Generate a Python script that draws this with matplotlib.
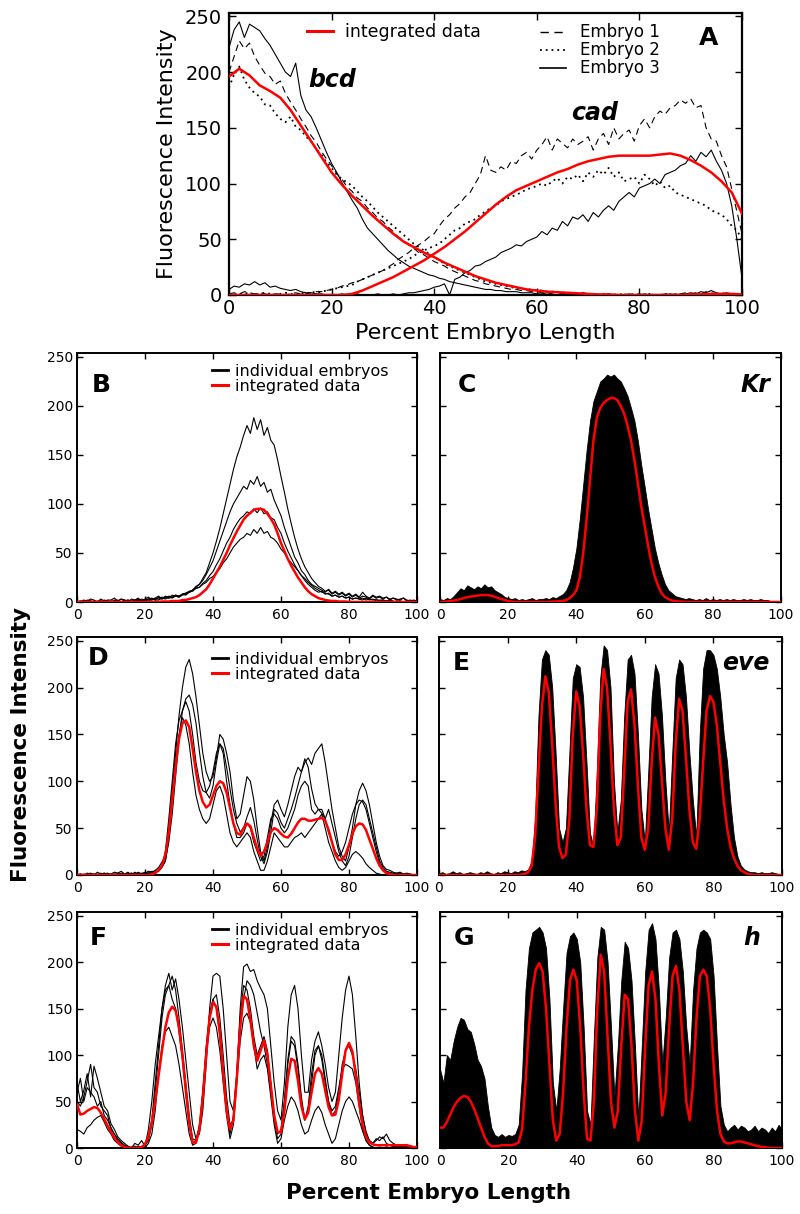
import numpy as np
import matplotlib
matplotlib.use("Agg")
import matplotlib.pyplot as plt
from matplotlib.lines import Line2D

plt.rcParams['font.family'] = ['DejaVu Sans']

W, H = 800, 1214

# percent embryo length
pct = np.arange(0, 101)
pct2 = np.arange(0, 101, 2)

# ---------------- panel A: bcd / cad ----------------
bcd_integrated = [196, 203, 197, 188, 183, 177, 166, 152, 138, 124,
                  110, 99, 89, 80, 71, 63, 55, 48, 43, 38,
                  34, 29, 25, 21, 17, 14, 11, 9, 7, 5,
                  4, 3, 2.5, 2, 1.5, 1, 0.5, 0.5, 0, 0,
                  0, 0, 0, 0, 0, 0.5, 0.5, 1, 1, 1, 0.5]
cad_integrated = [0, 0, 0, 0, 0, 0, 0, 0, 0, 0,
                  0, 0, 1, 4, 8, 12, 16, 21, 26, 31,
                  37, 43, 50, 57, 65, 73, 81, 88, 94, 98,
                  102, 106, 110, 113, 117, 120, 122, 124, 125, 125,
                  125, 125, 126, 127, 125, 121, 116, 110, 102, 92, 73]

emb1_bcd = [200, 214, 228, 221, 226, 214, 206, 199, 196, 189,
            192, 181, 173, 166, 158, 151, 143, 137, 129, 122,
            116, 109, 104, 97, 93, 87, 84, 78, 74, 69,
            66, 61, 57, 52, 49, 45, 42, 38, 36, 33,
            30, 28, 26, 23, 21, 19, 17, 15, 13, 12,
            10, 9, 8, 7, 6, 5, 5, 4, 4, 3,
            3, 2, 2, 3, 2, 1, 2, 1, 1, 2,
            1, 0, 1, 0, 1, 0, 0, 1, 0, 0,
            1, 0, 0, 1, 0, 0, 1, 0, 1, 2,
            1, 2, 1, 3, 2, 1, 2, 1, 0, 0, 0]
emb2_bcd = [186, 198, 205, 193, 186, 181, 178, 171, 170, 163,
            158, 155, 160, 151, 148, 142, 138, 131, 126, 119,
            114, 108, 104, 101, 98, 93, 88, 84, 79, 74,
            70, 66, 62, 58, 54, 50, 46, 43, 40, 37,
            34, 31, 28, 26, 24, 22, 20, 18, 16, 14,
            12, 11, 10, 9, 8, 7, 6, 6, 5, 5,
            4, 4, 3, 3, 3, 2, 2, 2, 1, 1,
            1, 1, 0, 1, 0, 0, 1, 0, 0, 1,
            0, 0, 1, 0, 0, 1, 0, 0, 0, 1,
            0, 1, 0, 0, 1, 0, 0, 1, 0, 0, 0]
emb3_bcd = [222, 238, 245, 231, 243, 240, 237, 230, 224, 216,
            208, 200, 196, 208, 179, 166, 160, 150, 139, 128,
            118, 110, 101, 93, 85, 78, 68, 60, 55, 50,
            45, 40, 36, 32, 29, 26, 24, 22, 20, 18,
            17, 15, 14, 12, 11, 10, 9, 8, 7, 6,
            5, 5, 4, 4, 3, 3, 3, 2, 2, 2,
            1, 1, 2, 1, 0, 1, 0, 1, 0, 0,
            0, 1, 0, 0, 1, 0, 0, 0, 1, 0,
            0, 1, 0, 0, 0, 1, 0, 1, 0, 1,
            2, 1, 3, 2, 4, 2, 1, 2, 1, 0, 0]
emb1_cad = [1, 2, 1, 3, 2, 1, 2, 1, 0, 1,
            1, 0, 1, 2, 1, 1, 2, 3, 3, 4,
            5, 6, 8, 9, 11, 12, 14, 16, 18, 20,
            22, 25, 28, 32, 35, 38, 42, 45, 48, 52,
            55, 62, 68, 72, 78, 82, 88, 92, 100, 108,
            125, 112, 110, 115, 112, 120, 118, 125, 128, 122,
            130, 135, 142, 130, 140, 136, 132, 140, 135, 138,
            142, 130, 140, 145, 135, 150, 140, 145, 148, 138,
            152, 158, 150, 160, 165, 162, 168, 170, 175, 172,
            176, 168, 170, 150, 140, 138, 125, 115, 95, 75, 55]
emb2_cad = [0, 1, 0, 2, 1, 0, 1, 2, 1, 0,
            1, 2, 1, 0, 2, 1, 3, 2, 3, 4,
            5, 6, 7, 8, 9, 12, 14, 16, 18, 20,
            22, 24, 26, 28, 30, 32, 35, 38, 40, 42,
            44, 46, 50, 54, 58, 60, 64, 66, 68, 72,
            75, 78, 80, 84, 86, 88, 90, 92, 95, 96,
            98, 100, 98, 102, 105, 100, 106, 104, 108, 102,
            110, 106, 112, 108, 114, 106, 110, 102, 104, 106,
            100, 108, 104, 98, 102, 96, 98, 92, 90, 88,
            86, 84, 82, 80, 76, 74, 72, 68, 62, 58, 50]
emb3_cad = [5, 8, 7, 10, 9, 12, 9, 11, 7, 8,
            6, 5, 4, 5, 3, 2, 2, 1, 1, 0,
            0, 0, 1, 0, 0, 1, 0, 0, 0, 1,
            0, 0, 1, 0, 1, 2, 2, 3, 4, 5,
            7, 8, 10, 0, 14, 16, 20, 22, 26, 27,
            30, 32, 34, 38, 40, 42, 45, 44, 48, 50,
            52, 57, 54, 60, 58, 66, 62, 70, 68, 72,
            66, 74, 70, 76, 80, 76, 84, 88, 92, 88,
            96, 98, 100, 104, 100, 108, 110, 112, 116, 118,
            125, 120, 128, 124, 130, 120, 112, 100, 80, 50, 15]

# ---------------- panel B ----------------
B_integrated = [0, 0, 0, 0, 0, 0, 0, 0, 0, 0,
                0, 0, 0, 0, 0, 0, 0, 0, 0, 0,
                0, 0, 0, 0, 0, 0.5, 0.5, 0.5, 1, 1,
                1, 2, 2, 3, 4, 5, 7, 10, 13, 18,
                24, 30, 36, 43, 50, 58, 65, 72, 78, 84,
                88, 91, 94, 95, 95, 94, 90, 85, 79, 70,
                60, 52, 44, 37, 31, 25, 20, 15, 11, 8,
                6, 4, 3, 2, 1.5, 1, 1, 0.5, 0.5, 0.5,
                0, 0, 0, 0, 0, 0, 0, 0, 0, 0,
                0, 0, 0, 0, 0, 0, 0, 0, 0, 0, 0]
B_embryos = [
    [1, 0, 2, 1, 3, 2, 0, 3, 1, 2,
     2, 4, 1, 3, 2, 0, 3, 2, 4, 1,
     3, 5, 2, 4, 6, 3, 5, 4, 7, 6,
     5, 8, 9, 11, 12, 16, 18, 24, 30, 40,
     50, 62, 75, 90, 105, 120, 135, 148, 158, 170,
     180, 172, 188, 176, 186, 170, 178, 165, 160, 145,
     128, 112, 95, 80, 66, 54, 44, 36, 30, 24,
     20, 16, 14, 11, 12, 8, 10, 7, 9, 6,
     8, 5, 7, 4, 6, 5, 3, 6, 4, 5,
     3, 5, 2, 4, 3, 2, 4, 1, 2, 1, 0],
    [0, 1, 0, 2, 1, 0, 1, 0, 2, 1,
     0, 2, 1, 3, 1, 2, 0, 2, 3, 1,
     2, 3, 4, 2, 5, 3, 6, 4, 5, 7,
     6, 8, 7, 10, 12, 15, 18, 22, 28, 35,
     42, 52, 62, 72, 82, 92, 100, 106, 112, 118,
     115, 124, 120, 128, 118, 122, 112, 115, 104, 96,
     88, 76, 66, 56, 46, 40, 32, 28, 22, 18,
     16, 14, 12, 10, 13, 9, 11, 8, 10, 7,
     9, 6, 8, 5, 10, 6, 4, 7, 5, 6,
     4, 5, 3, 4, 2, 3, 4, 2, 1, 2, 1],
    [0, 0, 1, 0, 0, 1, 0, 1, 0, 0,
     1, 0, 1, 0, 2, 1, 0, 1, 2, 1,
     2, 1, 3, 2, 2, 4, 3, 5, 4, 6,
     5, 7, 8, 10, 11, 14, 15, 19, 22, 27,
     31, 38, 44, 52, 60, 66, 74, 80, 85, 88,
     92, 90, 95, 91, 96, 90, 92, 86, 84, 76,
     70, 60, 52, 45, 38, 32, 27, 22, 18, 15,
     12, 10, 11, 8, 9, 6, 7, 5, 6, 4,
     5, 3, 4, 3, 2, 4, 2, 3, 1, 2,
     2, 1, 2, 0, 1, 1, 0, 1, 0, 0, 0],
    [0, 1, 0, 0, 1, 0, 0, 1, 0, 1,
     0, 1, 2, 0, 1, 2, 1, 2, 1, 3,
     2, 3, 2, 4, 3, 5, 4, 6, 5, 7,
     6, 8, 9, 10, 12, 14, 15, 18, 20, 24,
     26, 30, 34, 40, 44, 50, 56, 60, 64, 66,
     70, 68, 74, 70, 76, 70, 72, 66, 64, 60,
     54, 50, 44, 40, 36, 32, 27, 24, 20, 17,
     14, 12, 10, 9, 8, 6, 7, 5, 6, 4,
     5, 3, 4, 3, 4, 2, 3, 2, 3, 1,
     2, 1, 2, 1, 0, 1, 0, 1, 0, 0, 0],
]

# ---------------- panel C: Kr ----------------
C_integrated = [0, 0, 0.5, 1, 1.5, 2, 3, 4, 5, 5.5,
                6, 6.5, 7, 7, 7, 6.5, 5.5, 4, 3, 2,
                1, 0.5, 0, 0, 0, 0, 0, 0, 0, 0,
                0, 0, 0, 0.5, 0.5, 1, 1, 2, 4, 7,
                12, 25, 50, 85, 125, 165, 188, 198, 203, 206,
                208, 208, 206, 200, 192, 180, 165, 145, 122, 98,
                78, 58, 40, 26, 16, 9, 5, 3, 1.5, 1,
                0.5, 0.5, 0, 0, 0, 0, 0, 0, 0, 0,
                0, 0, 0, 0, 0, 0, 0, 0, 0, 0,
                0, 0, 0, 0, 0, 0, 0, 0, 0, 0, 0]
C_embryo_max = [3, 2, 4, 3, 6, 10, 14, 12, 17, 15,
                13, 16, 14, 18, 15, 16, 12, 10, 8, 5,
                4, 3, 4, 2, 3, 2, 3, 4, 2, 3,
                3, 4, 3, 5, 4, 6, 8, 12, 20, 35,
                55, 85, 120, 155, 185, 205, 215, 225, 228, 232,
                230, 232, 228, 225, 218, 210, 198, 185, 165, 140,
                118, 95, 75, 55, 40, 28, 18, 12, 9, 6,
                5, 4, 3, 4, 3, 2, 3, 2, 4, 2,
                3, 2, 3, 2, 3, 2, 3, 2, 2, 3,
                2, 3, 2, 2, 3, 2, 2, 1, 1, 1, 1]

# ---------------- panel D ----------------
D_integrated = [0, 0, 0, 0, 0, 0, 0, 0, 0, 0,
                0, 0, 0, 0, 0, 0, 0, 0, 0, 0,
                0, 0, 1, 2, 5, 10, 22, 45, 80, 115,
                145, 162, 165, 158, 135, 110, 90, 78, 72, 75,
                85, 95, 100, 98, 88, 72, 55, 45, 43, 50,
                55, 52, 40, 28, 21, 25, 35, 46, 50, 48,
                44, 41, 40, 44, 50, 56, 60, 60, 58, 58,
                59, 60, 61, 58, 48, 35, 22, 16, 16, 22,
                32, 44, 52, 55, 54, 48, 38, 28, 18, 10,
                5, 2, 1, 0, 0, 0, 0, 0, 0, 0, 0]
D_embryos = [
    [0, 1, 0, 2, 1, 0, 3, 1, 2, 0,
     1, 3, 2, 4, 1, 2, 0, 3, 1, 2,
     2, 4, 3, 5, 8, 14, 20, 50, 90, 130,
     170, 200, 222, 230, 215, 190, 160, 130, 110, 100,
     105, 125, 150, 145, 130, 110, 80, 60, 65, 85,
     105, 100, 80, 50, 25, 15, 30, 55, 75, 80,
     70, 62, 75, 90, 105, 115, 110, 120, 125, 118,
     130, 135, 140, 120, 95, 70, 50, 30, 20, 15,
     30, 50, 75, 90, 98, 90, 75, 55, 35, 20,
     10, 6, 5, 3, 2, 3, 1, 2, 1, 0, 0],
    [1, 0, 0, 1, 2, 0, 1, 0, 1, 2,
     0, 1, 0, 2, 1, 3, 0, 1, 2, 1,
     3, 2, 4, 3, 6, 9, 15, 35, 65, 105,
     145, 175, 188, 192, 182, 162, 132, 105, 88, 82,
     95, 120, 140, 135, 115, 92, 70, 55, 46, 50,
     62, 72, 58, 38, 20, 12, 25, 45, 70, 66,
     56, 50, 60, 70, 82, 96, 110, 124, 115, 92,
     76, 70, 66, 60, 70, 55, 40, 25, 15, 10,
     20, 40, 60, 75, 80, 75, 60, 45, 30, 15,
     8, 4, 3, 2, 1, 2, 1, 0, 1, 0, 0],
    [0, 0, 1, 0, 0, 1, 0, 0, 2, 1,
     0, 1, 0, 0, 1, 0, 2, 1, 0, 1,
     1, 2, 1, 3, 4, 8, 15, 40, 80, 120,
     150, 168, 160, 140, 110, 85, 70, 60, 55, 60,
     75, 90, 95, 85, 65, 45, 35, 30, 35, 40,
     45, 40, 25, 15, 5, 5, 15, 30, 45, 40,
     35, 30, 30, 35, 40, 42, 45, 40, 45, 50,
     55, 60, 65, 50, 35, 25, 15, 8, 5, 8,
     15, 22, 25, 22, 18, 12, 8, 5, 2, 1,
     0, 1, 0, 0, 1, 0, 0, 0, 0, 0, 0],
    [0, 1, 0, 0, 1, 1, 0, 2, 0, 1,
     1, 0, 2, 1, 0, 1, 2, 0, 3, 1,
     2, 1, 3, 2, 5, 10, 25, 60, 100, 140,
     165, 175, 185, 175, 150, 120, 100, 90, 88, 95,
     110, 130, 140, 130, 100, 75, 55, 40, 40, 45,
     55, 50, 35, 25, 15, 20, 40, 60, 65, 60,
     50, 45, 50, 60, 70, 85, 95, 100, 95, 70,
     65, 70, 70, 60, 45, 35, 25, 20, 25, 35,
     50, 65, 75, 80, 78, 70, 55, 40, 25, 12,
     5, 3, 2, 1, 2, 1, 0, 1, 0, 0, 0],
]

# ---------------- panel E: eve ----------------
E_integrated = [0, 0, 0, 0, 0, 0, 0, 0, 0, 0,
                0, 0, 0, 0, 0, 0, 0, 0, 0, 0,
                0, 0, 0, 0, 0.5, 1, 3, 10, 40, 110,
                180, 212, 195, 140, 75, 30, 18, 22, 60, 150,
                196, 180, 130, 70, 32, 30, 70, 170, 220, 200,
                140, 70, 32, 40, 110, 185, 198, 160, 95, 40,
                27, 50, 120, 168, 150, 100, 50, 27, 60, 140,
                188, 175, 125, 70, 35, 28, 60, 120, 175, 191,
                185, 160, 120, 80, 50, 30, 18, 10, 5, 3,
                1, 0.5, 0, 0, 0, 0, 0, 0, 0, 0, 0]
E_embryo_max = [2, 3, 1, 2, 4, 2, 3, 1, 2, 3,
                2, 1, 3, 2, 4, 2, 1, 3, 2, 4,
                3, 2, 4, 3, 5, 4, 6, 15, 60, 170,
                230, 240, 235, 200, 130, 50, 35, 50, 130, 210,
                225, 222, 190, 120, 45, 30, 110, 210, 245, 240,
                200, 100, 45, 80, 170, 230, 235, 215, 150, 70,
                35, 110, 190, 225, 215, 170, 100, 45, 130, 210,
                230, 225, 190, 130, 80, 40, 150, 220, 240, 240,
                235, 220, 190, 150, 120, 75, 40, 20, 10, 6,
                4, 3, 3, 2, 3, 2, 2, 3, 2, 1, 1]

# ---------------- panel F ----------------
F_integrated = [47, 36, 37, 40, 42, 44, 43, 38, 31, 24,
                17, 11, 6, 3, 1, 0, 0, 0, 0, 1,
                4, 12, 28, 50, 78, 105, 130, 146, 152, 148,
                130, 100, 62, 28, 6, 6, 20, 55, 100, 140,
                157, 152, 125, 80, 40, 20, 30, 75, 130, 164,
                160, 138, 110, 94, 105, 116, 100, 68, 35, 17,
                17, 40, 75, 96, 94, 72, 45, 31, 38, 60,
                80, 86, 80, 62, 44, 35, 36, 52, 80, 105,
                113, 104, 78, 48, 25, 12, 6, 4, 3, 3,
                3, 3, 3, 3, 3, 3, 3, 3, 2, 1, 1]
F_embryos = [
    [70, 50, 62, 80, 55, 88, 75, 60, 45, 40,
     26, 20, 12, 8, 5, 2, 0, 5, 3, 8,
     2, 20, 50, 90, 120, 150, 175, 188, 170, 182,
     160, 130, 95, 60, 25, 10, 15, 40, 90, 150,
     185, 188, 185, 150, 100, 50, 40, 80, 150, 195,
     198, 190, 192, 180, 172, 165, 150, 110, 70, 40,
     30, 70, 130, 165, 175, 150, 100, 60, 60, 95,
     115, 125, 110, 90, 65, 50, 60, 100, 140, 170,
     185, 165, 120, 70, 35, 15, 8, 5, 8, 12,
     10, 15, 8, 5, 3, 2, 1, 2, 1, 0, 0],
    [50, 45, 55, 72, 90, 65, 60, 45, 40, 35,
     20, 15, 8, 5, 2, 0, 1, 0, 2, 0,
     3, 10, 30, 70, 110, 150, 170, 175, 160, 150,
     125, 95, 60, 25, 5, 8, 25, 60, 110, 145,
     160, 150, 120, 80, 40, 15, 35, 80, 140, 175,
     170, 150, 120, 100, 110, 120, 105, 70, 30, 10,
     15, 50, 95, 120, 115, 90, 55, 30, 40, 70,
     100, 110, 95, 70, 50, 40, 45, 65, 85, 90,
     88, 85, 70, 45, 20, 8, 3, 1, 0, 1,
     0, 1, 0, 2, 1, 0, 1, 0, 0, 1, 0],
    [20, 18, 15, 22, 25, 30, 33, 35, 28, 20,
     15, 8, 5, 2, 0, 0, 1, 0, 0, 1,
     0, 5, 15, 40, 80, 110, 125, 130, 120, 110,
     90, 65, 40, 15, 3, 5, 20, 60, 100, 130,
     140, 130, 105, 70, 35, 10, 25, 70, 115, 140,
     145, 135, 110, 85, 95, 100, 85, 55, 25, 5,
     10, 30, 45, 55, 50, 40, 25, 15, 18, 30,
     40, 45, 38, 25, 15, 5, 10, 25, 40, 50,
     55, 50, 40, 30, 18, 8, 3, 1, 0, 0,
     0, 1, 0, 0, 1, 0, 0, 0, 0, 0, 0],
    [60, 75, 50, 65, 60, 55, 45, 50, 35, 30,
     22, 15, 10, 6, 3, 1, 0, 2, 0, 1,
     3, 8, 25, 60, 100, 140, 165, 175, 185, 170,
     140, 105, 70, 35, 10, 8, 20, 55, 105, 140,
     160, 165, 140, 100, 55, 25, 30, 75, 130, 160,
     180, 175, 165, 145, 125, 110, 90, 60, 30, 15,
     20, 50, 90, 115, 110, 85, 50, 30, 45, 80,
     105, 110, 100, 75, 50, 35, 40, 60, 90, 105,
     110, 100, 85, 60, 35, 18, 8, 5, 10, 8,
     12, 5, 3, 2, 1, 2, 1, 0, 1, 0, 0],
]

# ---------------- panel G: h ----------------
G_integrated = [22, 22, 28, 36, 44, 50, 54, 56, 55, 50,
                42, 32, 22, 12, 5, 2, 2, 2, 3, 3,
                3, 3, 4, 6, 20, 70, 130, 170, 192, 199,
                190, 150, 90, 30, 8, 15, 60, 130, 180, 192,
                180, 130, 60, 10, 8, 50, 150, 208, 190, 120,
                50, 22, 40, 110, 165, 160, 110, 40, 8, 30,
                110, 175, 190, 160, 90, 35, 60, 130, 185, 196,
                170, 110, 50, 30, 70, 140, 185, 192, 185, 150,
                90, 40, 15, 7, 5, 5, 6, 7, 7, 6,
                5, 4, 3, 2, 1, 1, 0, 0, 0, 0, 0]
G_embryo_max = [85, 70, 100, 95, 115, 130, 140, 138, 128, 125,
                112, 95, 88, 75, 45, 22, 14, 12, 15, 12,
                14, 13, 15, 25, 80, 170, 215, 232, 235, 238,
                232, 215, 160, 70, 40, 85, 150, 210, 228, 232,
                225, 200, 130, 40, 25, 120, 205, 238, 235, 200,
                130, 55, 110, 180, 222, 215, 180, 110, 30, 110,
                190, 235, 242, 225, 170, 90, 140, 205, 232, 235,
                225, 190, 130, 90, 170, 215, 232, 235, 232, 225,
                185, 110, 45, 25, 18, 22, 25, 20, 24, 22,
                18, 20, 24, 18, 22, 20, 16, 22, 18, 25, 20]

fig = plt.figure(figsize=(W / 100, H / 100), dpi=100)


def add_panel(x0, y0, x1, y1):
    # pixel box -> figure fraction
    return fig.add_axes([x0 / W, 1 - y1 / H, (x1 - x0) / W, (y1 - y0) / H])


def frame(ax, ymax, size, lw, ticklen, ylabels=True, xpad=4, ypad=3):
    ax.set_xlim(0, 100)
    ax.set_ylim(0, ymax)
    ax.set_xticks(range(0, 101, 20))
    ax.set_yticks(range(0, 251, 50))
    ax.tick_params(direction='in', top=True, right=True, length=ticklen, width=1,
                   labelsize=size, labelleft=ylabels)
    ax.tick_params(axis='x', pad=xpad)
    ax.tick_params(axis='y', pad=ypad)
    for s in ax.spines.values():
        s.set_linewidth(lw)


def letter(ax, x, y, s):
    ax.text(x, y, s, transform=ax.transAxes, fontsize=18, fontweight='bold',
            ha='left', va='baseline')


def gene(ax, x, y, s):
    ax.text(x, y, s, transform=ax.transAxes, fontsize=17, fontweight='bold',
            style='italic', ha='right', va='baseline')


def embryo_legend(ax, top):
    ax.legend([Line2D([], [], color='k', lw=2), Line2D([], [], color='red', lw=2.2)],
              ['individual embryos', 'integrated data'], loc='upper left',
              bbox_to_anchor=(0.397, top), frameon=False, fontsize=11.5, borderpad=0,
              borderaxespad=0, handlelength=1.0, handletextpad=0.45, labelspacing=0.0)


# ---- A ----
axA = add_panel(229, 13, 742, 295)
frame(axA, 253, 14, 1.6, 5, xpad=3, ypad=5)
for e1, e2, e3 in [(emb1_bcd, emb2_bcd, emb3_bcd), (emb1_cad, emb2_cad, emb3_cad)]:
    axA.plot(pct, e1, color='k', lw=0.8, dashes=(6, 4))
    axA.plot(pct, e2, color='k', lw=1.3, dashes=(1, 2.2))
    axA.plot(pct, e3, color='k', lw=0.8)
axA.plot(pct2, bcd_integrated, color='red', lw=1.8, zorder=4)
axA.plot(pct2, cad_integrated, color='red', lw=1.8, zorder=4)
leg1 = axA.legend([Line2D([], [], color='red', lw=2.2)], ['integrated data'],
                  loc='upper left', bbox_to_anchor=(0.152, 0.963), frameon=False,
                  fontsize=12.5, borderpad=0, borderaxespad=0, handlelength=1.5,
                  handletextpad=0.7)
axA.add_artist(leg1)
axA.legend([Line2D([], [], color='k', lw=1, dashes=(6, 4)),
            Line2D([], [], color='k', lw=1.3, dashes=(1, 2.2)),
            Line2D([], [], color='k', lw=1.2)],
           ['Embryo 1', 'Embryo 2', 'Embryo 3'], loc='upper left',
           bbox_to_anchor=(0.606, 0.963), frameon=False, fontsize=12, borderpad=0,
           borderaxespad=0, handlelength=1.55, handletextpad=0.85, labelspacing=0.0)
axA.text(0.934, 0.887, 'A', transform=axA.transAxes, fontsize=18, fontweight='bold',
         ha='center', va='baseline')
axA.text(20.2, 187, 'bcd', fontsize=17, fontweight='bold', style='italic',
         ha='center', va='baseline')
axA.text(71.3, 157, 'cad', fontsize=17, fontweight='bold', style='italic',
         ha='center', va='baseline')
axA.set_xlabel('Percent Embryo Length', fontsize=16, va='center')
axA.xaxis.set_label_coords(0.5, -0.135)
axA.set_ylabel('Fluorescence Intensity', fontsize=16, va='center')
axA.yaxis.set_label_coords(-0.121, 0.5)

# ---- lower panels ----
axB = add_panel(77, 353, 417, 602)
axC = add_panel(440, 353, 781, 602)
axD = add_panel(77, 637, 417, 875)
axE = add_panel(439, 637, 782, 875)
axF = add_panel(77, 912, 417, 1148)
axG = add_panel(440, 912, 782, 1148)
for ax, left in [(axB, True), (axC, False), (axD, True), (axE, False), (axF, True), (axG, False)]:
    frame(ax, 254, 10, 1.4, 4, ylabels=left, xpad=4, ypad=3)

for ax, traces, red in [(axB, B_embryos, B_integrated), (axD, D_embryos, D_integrated),
                        (axF, F_embryos, F_integrated)]:
    for t in traces:
        ax.plot(pct, t, color='k', lw=0.8)
    ax.plot(pct, red, color='red', lw=1.8, zorder=4)

for ax, top, red in [(axC, C_embryo_max, C_integrated), (axE, E_embryo_max, E_integrated),
                     (axG, G_embryo_max, G_integrated)]:
    ax.fill_between(pct, 0, top, color='k', lw=0.6)
    ax.plot(pct, red, color='red', lw=1.8, zorder=4)

embryo_legend(axB, 0.957)
embryo_legend(axD, 0.938)
embryo_legend(axF, 0.955)

letter(axB, 0.044, 0.843, 'B')
letter(axC, 0.053, 0.843, 'C')
letter(axD, 0.033, 0.882, 'D')
letter(axE, 0.039, 0.861, 'E')
letter(axF, 0.038, 0.860, 'F')
letter(axG, 0.039, 0.860, 'G')
gene(axC, 0.968, 0.843, 'Kr')
gene(axE, 0.965, 0.861, 'eve')
gene(axG, 0.936, 0.860, 'h')

fig.text(21 / W, 1 - 745 / H, 'Fluorescence Intensity', rotation=90, fontsize=15.5,
         fontweight='bold', ha='center', va='center')
fig.text(429 / W, 1 - 1193 / H, 'Percent Embryo Length', fontsize=15.5,
         fontweight='bold', ha='center', va='center')

fig.savefig('out.png', dpi=100)
